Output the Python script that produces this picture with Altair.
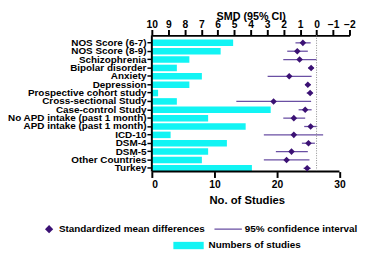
import altair as alt
import pandas as pd

categories = ["NOS Score (6-7)", "NOS Score (8-9)", "Schizophrenia", "Bipolar disorder",
              "Anxiety", "Depression", "Prospective cohort study", "Cross-sectional Study",
              "Case-control Study", "No APD intake (past 1 month)", "APD intake (past 1 month)",
              "ICD-10", "DSM-4", "DSM-5", "Other Countries", "Turkey"]
n_studies = [13, 11, 6, 4, 8, 6, 1, 4, 19, 9, 15, 3, 12, 9, 8, 16]
smd = [0.83, 1.17, 1.03, 0.33, 1.66, 0.53, 0.39, 2.61, 0.69, 1.38, 0.36, 1.38, 0.49, 1.52, 1.82, 0.57]
ci_low = [0.36, 0.53, 0.0, 0.17, 0.30, 0.36, 0.25, 0.33, 0.30, 0.69, -0.04, -0.40, 0.10, 0.53, 0.43, 0.36]
ci_high = [1.28, 1.78, 2.02, 0.50, 2.97, 0.70, 0.60, 4.87, 1.09, 2.02, 0.75, 3.20, 0.89, 2.47, 3.20, 0.79]
smd_ticks = [10, 9, 8, 7, 6, 5, 4, 3, 2, 1, 0, -1, -2]
n_ticks = [0, 10, 20, 30]

df = pd.DataFrame({"cat": categories, "n": n_studies, "smd": smd, "lo": ci_low, "hi": ci_high})

W, H = 202, 139.2
FONT = "Liberation Sans"
PURPLE = "#3b1174"
LINE_PURPLE = "#6a4fa3"
CYAN = "#12f4f4"

ycat = alt.Y("cat:N", sort=categories)

bars = alt.Chart(df).mark_bar(color=CYAN).encode(
    x=alt.X("n:Q", scale=alt.Scale(domain=[0, 31.6], nice=False),
            axis=alt.Axis(orient="bottom", values=n_ticks, title="No. of Studies", domain=False,
                          tickSize=6, tickWidth=2, tickColor="black", labelOverlap=False,
                          labelFont=FONT, labelFontWeight="bold", labelFontSize=10.5, labelColor="black",
                          titleFont=FONT, titleFontWeight="bold", titleFontSize=11.5, titleColor="black",
                          titlePadding=5, labelPadding=2, grid=False, titleX=97)),
    y=alt.Y("cat:N", sort=categories,
            scale=alt.Scale(range=[4.3, H], paddingInner=0.22, paddingOuter=0),
            axis=alt.Axis(title=None, domain=False, tickSize=5, tickWidth=1.5, tickColor="black",
                          labelFont=FONT, labelFontWeight="bold", labelFontSize=10.1,
                          labelColor="black", labelPadding=1, labelLimit=300, labelOverlap=False)),
)

bottom_line = alt.Chart(pd.DataFrame({"n": [0], "b": [30]})).mark_rule(color="black", strokeWidth=2).encode(
    x=alt.X("n:Q"), x2="b:Q", y=alt.value(H))

left_line = alt.Chart(pd.DataFrame({"a": [0]})).mark_rule(color="black", strokeWidth=2).encode(
    x=alt.value(0), y=alt.value(0), y2=alt.value(H))

smd_scale = alt.Scale(domain=[-2, 10], reverse=True, nice=False)
smd_axis = alt.Axis(orient="top", values=smd_ticks, title="SMD (95% CI)", tickSize=6, tickWidth=2,
                    domainWidth=2, domainColor="black", tickColor="black", labelOverlap=False,
                    labelFont=FONT, labelFontWeight="bold", labelFontSize=10.5, labelColor="black",
                    titleFont=FONT, titleFontWeight="bold", titleFontSize=11, titleColor="black",
                    titleY=-16.5, titleBaseline="alphabetic", labelPadding=0, grid=False,
                    labelFlush=False)

ci = alt.Chart(df).mark_rule(color=LINE_PURPLE, strokeWidth=1.3).encode(
    x=alt.X("lo:Q", scale=smd_scale, axis=smd_axis),
    x2="hi:Q",
    y=ycat,
)

zero = alt.Chart(pd.DataFrame({"lo": [0]})).mark_rule(color="#888888", strokeDash=[1, 1.5], strokeWidth=1).encode(
    x=alt.X("lo:Q", scale=smd_scale, axis=smd_axis), y=alt.value(0), y2=alt.value(H))

pts = alt.Chart(df).mark_point(shape="diamond", filled=True, color=PURPLE, size=45, opacity=1).encode(
    x=alt.X("smd:Q", scale=smd_scale, axis=smd_axis),
    y=ycat,
)

# legend
leg = pd.DataFrame({"k": [0]})
leg_d = alt.Chart(leg).mark_point(shape="diamond", filled=True, color=PURPLE, size=70, opacity=1).encode(
    x=alt.value(-105), y=alt.value(198))
leg_t1 = alt.Chart(leg).mark_text(text="Standardized mean differences", align="left", baseline="middle",
                                  font=FONT, fontWeight="bold", fontSize=10.1, color="black").encode(
    x=alt.value(-95), y=alt.value(198))
leg_l = alt.Chart(leg).mark_rule(color=LINE_PURPLE, strokeWidth=1.3).encode(
    x=alt.value(64), x2=alt.value(92), y=alt.value(198))
leg_t2 = alt.Chart(leg).mark_text(text="95% confidence interval", align="left", baseline="middle",
                                  font=FONT, fontWeight="bold", fontSize=10.1, color="black").encode(
    x=alt.value(95), y=alt.value(198))
leg_r = alt.Chart(leg).mark_rect(color=CYAN).encode(
    x=alt.value(22), x2=alt.value(53), y=alt.value(211), y2=alt.value(218.5))
leg_t3 = alt.Chart(leg).mark_text(text="Numbers of studies", align="left", baseline="middle",
                                  font=FONT, fontWeight="bold", fontSize=10.1, color="black").encode(
    x=alt.value(58), y=alt.value(214.7))

left_part = alt.layer(bars, bottom_line, left_line, leg_d, leg_t1, leg_l, leg_t2, leg_r, leg_t3)
right_part = alt.layer(ci, zero, pts)

chart = alt.layer(left_part, right_part).resolve_scale(x="independent").properties(
    width=W, height=H, autosize=alt.AutoSizeParams(type="none"),
    padding={"left": 147, "top": 25.3, "right": 23, "bottom": 80}
).configure_view(stroke=None)

chart.save("out.html", embed_options={"renderer": "svg", "actions": False})
